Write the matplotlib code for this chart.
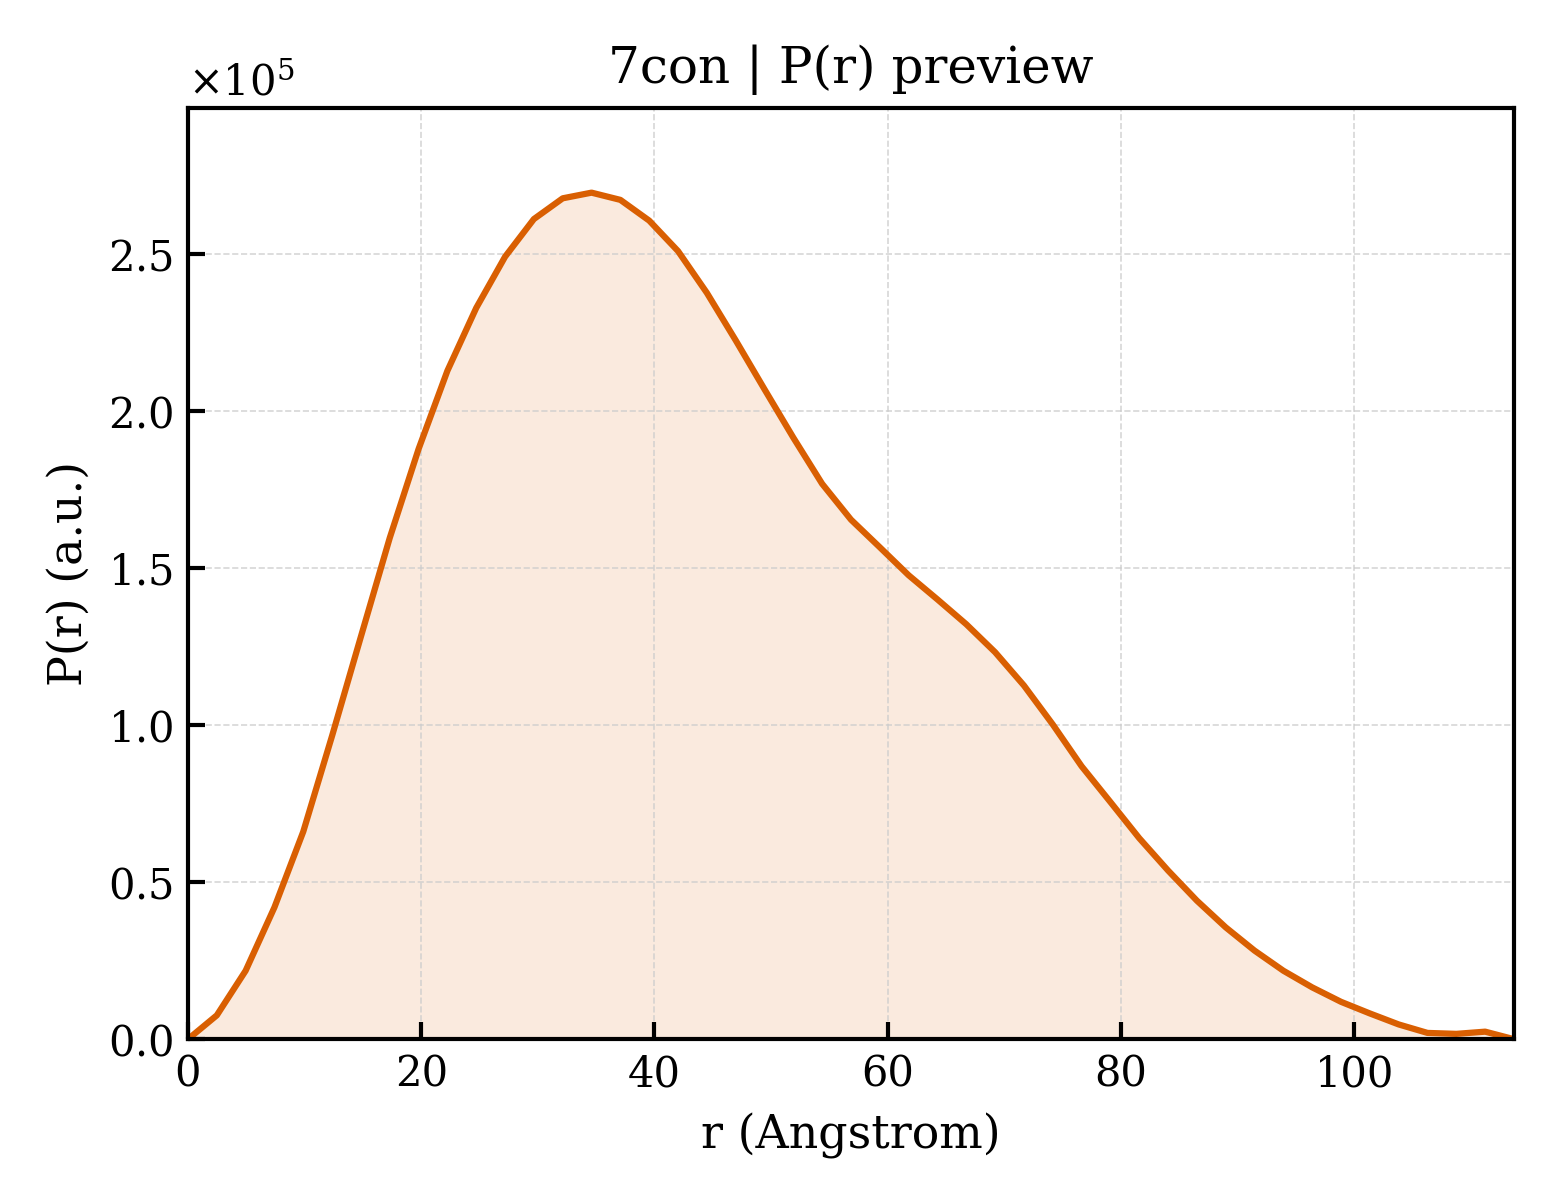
from matplotlib import pyplot as plt
from matplotlib.ticker import ScalarFormatter
import numpy as np

plt.rcParams['font.family'] = 'DejaVu Serif'
plt.rcParams['mathtext.fontset'] = 'dejavuserif'

dmax = 113.7
pr = np.array([
    0.000, 0.076, 0.218, 0.420, 0.661, 0.966, 1.282, 1.596, 1.879, 2.128,
    2.328, 2.491, 2.611, 2.677, 2.695, 2.672, 2.606, 2.509, 2.376, 2.225,
    2.069, 1.915, 1.768, 1.654, 1.566, 1.477, 1.400, 1.321, 1.232, 1.126,
    1.002, 0.869, 0.755, 0.640, 0.537, 0.441, 0.356, 0.282, 0.218, 0.165,
    0.119, 0.082, 0.047, 0.020, 0.017, 0.024, 0.000]) * 1e5
r = np.linspace(0, dmax, len(pr))

color = '#D95F02'

fig, ax = plt.subplots(figsize=(5.2, 4.0), dpi=300)
fig.subplots_adjust(left=0.1205, right=0.9705, top=0.91, bottom=0.134)

ax.fill_between(r, 0, pr, color=color, alpha=0.13, linewidth=0)
ax.plot(r, pr, color=color, lw=1.5)

ax.set_xlim(0, r.max())
ax.set_ylim(0, pr.max() * 1.1)
ax.set_xlabel('r (Angstrom)', fontsize=11)
ax.set_ylabel('P(r) (a.u.)', fontsize=11)
ax.set_title('7con | P(r) preview', fontsize=12)

fmt = ScalarFormatter(useMathText=True)
fmt.set_powerlimits((0, 0))
ax.yaxis.set_major_formatter(fmt)
ax.yaxis.get_offset_text().set_fontsize(10)

ax.tick_params(direction='in', length=4, width=1, labelsize=10)
for s in ax.spines.values():
    s.set_linewidth(1.0)
ax.grid(True, ls='--', lw=0.4, color='#cccccc', alpha=0.8)

plt.savefig('out.png', dpi=300)
